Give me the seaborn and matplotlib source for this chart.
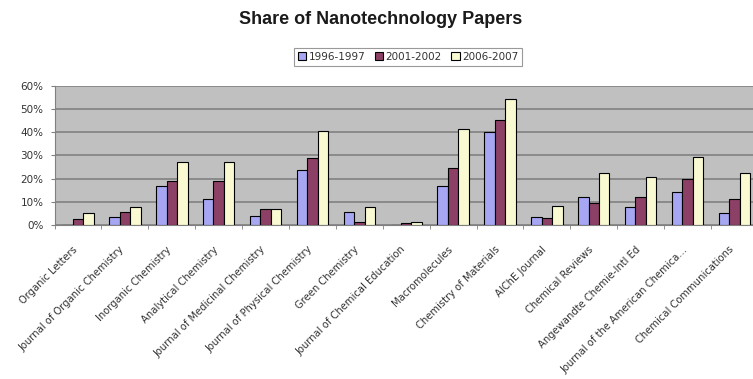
import matplotlib
matplotlib.use("Agg")
import matplotlib.pyplot as plt
import matplotlib.transforms as mtransforms
import seaborn as sns
import pandas as pd
import numpy as np
from matplotlib.ticker import PercentFormatter, FixedLocator

journals = ["Organic Letters", "Journal of Organic Chemistry", "Inorganic Chemistry",
            "Analytical Chemistry", "Journal of Medicinal Chemistry",
            "Journal of Physical Chemistry", "Green Chemistry",
            "Journal of Chemical Education", "Macromolecules", "Chemistry of Materials",
            "AIChE Journal", "Chemical Reviews", "Angewandte Chemie-Intl Ed",
            "Journal of the American Chemica...", "Chemical Communications"]
periods = ["1996-1997", "2001-2002", "2006-2007"]
share_1996 = [0.0, 3.6, 17.0, 11.2, 4.0, 23.7, 5.7, 0.2, 17.0, 40.0, 3.6, 12.0, 7.9, 14.4, 5.0]
share_2001 = [2.5, 5.5, 19.0, 18.9, 6.9, 29.0, 1.2, 0.7, 24.4, 45.3, 2.9, 9.4, 12.0, 19.7, 11.2]
share_2006 = [5.3, 7.9, 27.0, 27.3, 6.9, 40.6, 7.9, 1.3, 41.4, 54.2, 8.2, 22.6, 20.9, 29.2, 22.3]
colors = ["#9999FF", "#993366", "#FFFFCC"]

df = pd.DataFrame({
    "journal": journals * 3,
    "period": np.repeat(periods, len(journals)),
    "share": share_1996 + share_2001 + share_2006,
})

sns.set_style("white")
plt.rcParams["font.family"] = ["Liberation Sans", "DejaVu Sans"]

fig = plt.figure(figsize=(7.53, 3.79), dpi=100)
ax = fig.add_axes([0.0725, 0.4063, 0.934, 0.367])
ax.set_facecolor("#C0C0C0")

sns.barplot(data=df, x="journal", y="share", hue="period", palette=colors,
            width=0.67, edgecolor="black", linewidth=0.8, ax=ax, zorder=3)

ax.set_ylim(0, 60)
ax.set_xlim(-0.5, len(journals) - 0.5)
ax.set_yticks(range(0, 61, 10))
ax.yaxis.set_major_formatter(PercentFormatter(decimals=0))
ax.grid(axis="y", color="#8A8A8A", linewidth=1.4, zorder=0)
ax.set_axisbelow(True)
for side in ["top", "right"]:
    ax.spines[side].set_visible(False)
ax.spines["left"].set_color("#808080")
ax.spines["bottom"].set_color("#808080")

ax.set_xlabel("")
ax.set_ylabel("")
ax.tick_params(axis="y", labelsize=7.5, labelcolor="#333333", length=3, color="#808080", pad=5, left=True)
for lbl in ax.get_yticklabels():
    lbl.set_family(["DejaVu Sans"])

ax.set_xticks(range(len(journals)))
ax.set_xticklabels(journals, rotation=45, ha="right", va="top", rotation_mode="anchor",
                   fontsize=7.2, color="#333333", family=["DejaVu Sans"])
ax.tick_params(axis="x", length=0, pad=14)
shift = mtransforms.ScaledTranslation(-4 / 72, 0, fig.dpi_scale_trans)
for lbl in ax.get_xticklabels():
    lbl.set_transform(lbl.get_transform() + shift)
ax.xaxis.set_minor_locator(FixedLocator(np.arange(-0.5, len(journals), 1)))
ax.tick_params(axis="x", which="minor", length=3, color="#808080", bottom=True)

fig.text(0.505, 1 - 20 / 379, "Share of Nanotechnology Papers", ha="center", va="center",
         fontsize=13, fontweight="bold", color="#1a1a1a")

leg = ax.legend(loc="center", ncol=3, prop={"family": "DejaVu Sans", "size": 7.5},
                frameon=True, fancybox=False, handlelength=0.8, handleheight=0.8,
                handletextpad=0.25, columnspacing=0.9, borderpad=0.35)
leg.set_bbox_to_anchor((408 / 753, 1 - 57 / 379), transform=fig.transFigure)
leg.get_frame().set_edgecolor("#808080")
leg.get_frame().set_linewidth(0.8)
for t in leg.get_texts():
    t.set_color("#333333")

fig.savefig("out.png", dpi=100)
